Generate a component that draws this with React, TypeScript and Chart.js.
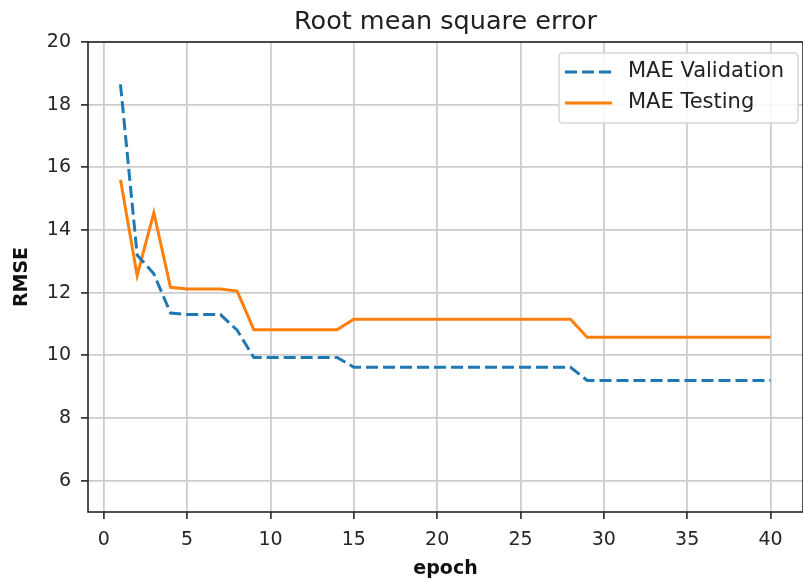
import React, { useEffect, useRef } from "react";
import { Chart, registerables } from "chart.js";

Chart.register(...registerables);

const epochs = [1, 2, 3, 4, 5, 6, 7, 8, 9, 10, 11, 12, 13, 14, 15, 16, 17, 18, 19, 20, 21, 22, 23, 24, 25, 26, 27, 28, 29, 30, 31, 32, 33, 34, 35, 36, 37, 38, 39, 40];
const maeValidation = [18.65, 13.2, 12.6, 11.35, 11.3, 11.3, 11.3, 10.8, 9.93, 9.93, 9.93, 9.93, 9.93, 9.93, 9.62, 9.62, 9.62, 9.62, 9.62, 9.62, 9.62, 9.62, 9.62, 9.62, 9.62, 9.62, 9.62, 9.62, 9.2, 9.2, 9.2, 9.2, 9.2, 9.2, 9.2, 9.2, 9.2, 9.2, 9.2, 9.2];
const maeTesting = [15.6, 12.55, 14.55, 12.17, 12.12, 12.12, 12.12, 12.05, 10.82, 10.82, 10.82, 10.82, 10.82, 10.82, 11.15, 11.15, 11.15, 11.15, 11.15, 11.15, 11.15, 11.15, 11.15, 11.15, 11.15, 11.15, 11.15, 11.15, 10.58, 10.58, 10.58, 10.58, 10.58, 10.58, 10.58, 10.58, 10.58, 10.58, 10.58, 10.58];
const xTicks = [0, 5, 10, 15, 20, 25, 30, 35, 40];
const yTicks = [6, 8, 10, 12, 14, 16, 18, 20];
const seriesLabels = ["MAE Validation", "MAE Testing"];
const chartTitle = "Root mean square error";

const FONT = "'DejaVu Sans', sans-serif";
const BLUE = "#1f77b4";
const ORANGE = "#ff7f0e";

const framePlugin = {
  id: "frame",
  afterDatasetsDraw(chart: any) {
    const { ctx, chartArea: a } = chart;
    ctx.save();
    ctx.strokeStyle = "#262626";
    ctx.lineWidth = 1.6;
    ctx.strokeRect(a.left, a.top, a.right - a.left, a.bottom - a.top);
    ctx.restore();
  },
};

const titlePlugin = {
  id: "axesTitle",
  afterDraw(chart: any) {
    const { ctx, chartArea: a } = chart;
    ctx.save();
    ctx.fillStyle = "#222";
    ctx.font = `25.5px ${FONT}`;
    ctx.textAlign = "center";
    ctx.textBaseline = "middle";
    ctx.fillText(chartTitle, (a.left + a.right) / 2, 22);
    ctx.restore();
  },
};

const legendPlugin = {
  id: "customLegend",
  afterDraw(chart: any) {
    const { ctx } = chart;
    const x = 559, y = 53, w = 239, h = 70;
    ctx.save();
    ctx.beginPath();
    const r = 4;
    ctx.moveTo(x + r, y);
    ctx.lineTo(x + w - r, y);
    ctx.quadraticCurveTo(x + w, y, x + w, y + r);
    ctx.lineTo(x + w, y + h - r);
    ctx.quadraticCurveTo(x + w, y + h, x + w - r, y + h);
    ctx.lineTo(x + r, y + h);
    ctx.quadraticCurveTo(x, y + h, x, y + h - r);
    ctx.lineTo(x, y + r);
    ctx.quadraticCurveTo(x, y, x + r, y);
    ctx.closePath();
    ctx.fillStyle = "rgba(255,255,255,0.85)";
    ctx.fill();
    ctx.strokeStyle = "#d6d6d6";
    ctx.lineWidth = 1.5;
    ctx.stroke();

    const rows = [72, 103];
    chart.data.datasets.forEach((ds: any, i: number) => {
      const ry = rows[i];
      ctx.beginPath();
      ctx.setLineDash(ds.borderDash || []);
      ctx.strokeStyle = ds.borderColor;
      ctx.lineWidth = ds.borderWidth;
      ctx.moveTo(565, ry);
      ctx.lineTo(612, ry);
      ctx.stroke();
      ctx.setLineDash([]);
      ctx.fillStyle = "#222";
      ctx.font = `21px ${FONT}`;
      ctx.textBaseline = "middle";
      ctx.textAlign = "left";
      ctx.fillText(ds.label, 628, ry);
    });
    ctx.restore();
  },
};

export default function App() {
  const ref = useRef<HTMLCanvasElement | null>(null);
  useEffect(() => {
    if (!ref.current) return;
    const chart = new Chart(ref.current, {
      type: "line",
      data: {
        datasets: [
          {
            label: seriesLabels[0],
            data: epochs.map((e, i) => ({ x: e, y: maeValidation[i] })),
            borderColor: BLUE,
            backgroundColor: BLUE,
            borderWidth: 3,
            borderDash: [12, 5],
            pointRadius: 0,
            tension: 0,
            fill: false,
          },
          {
            label: seriesLabels[1],
            data: epochs.map((e, i) => ({ x: e, y: maeTesting[i] })),
            borderColor: ORANGE,
            backgroundColor: ORANGE,
            borderWidth: 3,
            pointRadius: 0,
            tension: 0,
            fill: false,
          },
        ],
      },
      options: {
        animation: false,
        responsive: false,
        devicePixelRatio: 1,
        layout: { padding: { left: 0, right: 0, top: 42, bottom: 0 } },
        plugins: {
          legend: { display: false },
          tooltip: { enabled: false },
          title: { display: false },
        },
        scales: {
          x: {
            type: "linear",
            min: -0.95,
            max: 41.95,
            border: { display: false },
            grid: {
              color: "#cdcdcd",
              lineWidth: 1.8,
              drawTicks: true,
              tickLength: 7,
              tickColor: "#262626",
              tickWidth: 1.6,
            },
            ticks: {
              color: "#262626",
              font: { family: FONT, size: 19 },
              padding: 10,
              maxRotation: 0,
              includeBounds: false,
            },
            afterBuildTicks: (s: any) => {
              s.ticks = xTicks.map((v) => ({ value: v }));
            },
            afterFit: (s: any) => {
              s.height = 69;
            },
            title: {
              display: true,
              text: "epoch",
              color: "#111",
              font: { family: FONT, size: 19, weight: "bold" },
              padding: { top: 0, bottom: 1 },
            },
          },
          y: {
            type: "linear",
            min: 5,
            max: 20,
            border: { display: false },
            grid: {
              color: "#cdcdcd",
              lineWidth: 1.8,
              drawTicks: true,
              tickLength: 7,
              tickColor: "#262626",
              tickWidth: 1.6,
            },
            ticks: {
              color: "#262626",
              font: { family: FONT, size: 19 },
              padding: 10,
              includeBounds: false,
            },
            afterBuildTicks: (s: any) => {
              s.ticks = yTicks.map((v) => ({ value: v }));
            },
            afterFit: (s: any) => {
              s.width = 88;
            },
            title: {
              display: true,
              text: "RMSE",
              color: "#111",
              font: { family: FONT, size: 19, weight: "bold" },
              padding: { top: 11, bottom: 0 },
            },
          },
        },
      },
      plugins: [framePlugin, titlePlugin, legendPlugin],
    } as any);
    return () => chart.destroy();
  }, []);
  return (
    <div style={{ position: "absolute", left: 0, top: 0, width: 803, height: 581, background: "#fff" }}>
      <canvas ref={ref} width={803} height={581} />
    </div>
  );
}
